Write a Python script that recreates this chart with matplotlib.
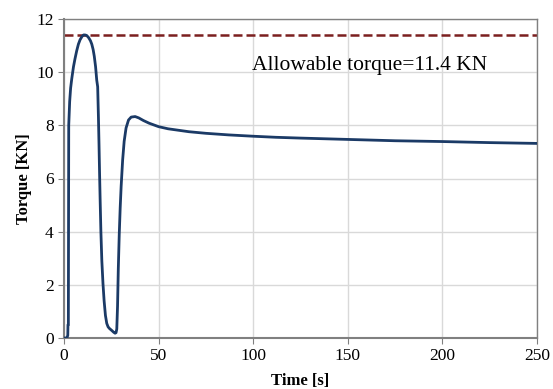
import matplotlib
matplotlib.use("Agg")
import matplotlib.pyplot as plt
import numpy as np

plt.rcParams['font.family'] = ['Liberation Serif', 'DejaVu Serif']

time_s = [0, 1.5, 2.0, 2.1, 2.3, 2.5, 3.0, 3.5, 4.1, 5.0, 5.8, 6.7, 7.6, 8.5, 9.5, 10.3, 11.1, 12.0,
          13.0, 14.0, 14.7, 15.4, 16.0, 16.7, 17.3, 17.8,
          18.2, 18.5, 18.8, 19.1, 19.5, 20.0, 20.6, 21.2, 21.9, 22.6, 23.3, 24.0, 25.3, 26.2, 27.0,
          27.5, 27.9, 28.3, 28.7, 29.2, 29.7, 30.2, 31.0, 31.8, 32.8, 34.1, 35.5,
          37.6, 39.5, 42.0, 45.0, 50.0, 55.0, 60.0, 66.0, 75.0, 87.0, 100.0, 112.0, 125.0, 150.0,
          175.0, 200.0, 225.0, 250.0]
torque_kn = [0, 0, 0.1, 0.5, 0.5, 8.0, 8.9, 9.4, 9.75, 10.2, 10.5, 10.8, 11.05, 11.22, 11.34, 11.4, 11.4,
             11.38, 11.3, 11.18, 11.05, 10.85, 10.6, 10.2, 9.7, 9.45,
             8.3, 7.3, 6.2, 5.2, 4.0, 2.9, 2.05, 1.4, 0.85, 0.55, 0.42, 0.36, 0.28, 0.22, 0.18,
             0.2, 0.34, 1.2, 2.6, 3.9, 4.9, 5.7, 6.7, 7.4, 7.9, 8.2, 8.31,
             8.33, 8.28, 8.18, 8.08, 7.95, 7.87, 7.82, 7.76, 7.7, 7.64, 7.59, 7.55, 7.52, 7.47,
             7.42, 7.39, 7.35, 7.32]
allowable = 11.4
annot_text = "Allowable torque=11.4 KN"

fig = plt.figure(figsize=(5.53, 3.89), dpi=100)
ax = fig.add_axes([64/553, 51/389, 473/553, 319/389])

ax.plot(time_s, torque_kn, color='#1b3a66', lw=2.0, zorder=3, solid_joinstyle='round')
ax.axhline(allowable, color='#7b1f1f', lw=1.8, ls=(0, (3.6, 1.6)), zorder=2)
ax.text(0.398, 0.855, annot_text, transform=ax.transAxes, fontsize=15.5, ha='left', va='center')

ax.set_xlim(0, 250)
ax.set_ylim(0, 12)
ax.set_xticks([0, 50, 100, 150, 200, 250])
ax.set_yticks([0, 2, 4, 6, 8, 10, 12])
ax.grid(True, color='#d9d9d9', lw=1.0)
ax.set_axisbelow(True)
for s in ax.spines.values():
    s.set_color('#808080')
    s.set_linewidth(1.0)
ax.spines['left'].set_linewidth(1.5)
ax.spines['bottom'].set_linewidth(1.5)
ax.tick_params(axis='both', labelsize=12.5, length=4, color='#808080', direction='out')
ax.set_xlabel('Time [s]', fontsize=12, fontweight='bold', labelpad=6)
ax.set_ylabel('Torque [KN]', fontsize=12, fontweight='bold', labelpad=3)

fig.savefig('out.png', dpi=100)
